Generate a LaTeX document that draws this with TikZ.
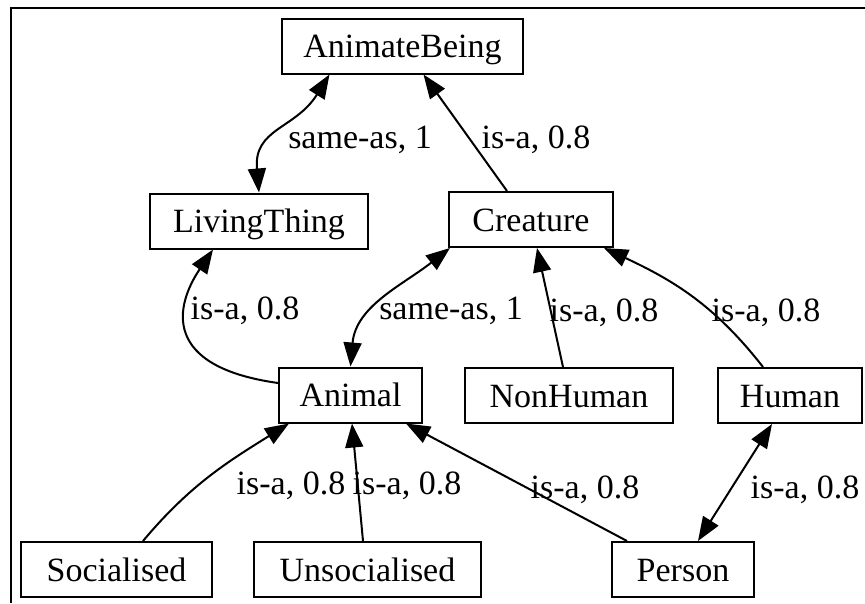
\documentclass[tikz,border=0pt]{standalone}
\usepackage{fontspec}
\setmainfont{Liberation Serif}
\usetikzlibrary{arrows.meta}
\begin{document}
\begin{tikzpicture}[x=1pt,y=1pt,
  every node/.style={font=\fontsize{34}{40}\selectfont, text height=23pt, text depth=0pt},
  box/.style={draw=black, line width=2pt, minimum height=55pt, inner sep=0pt},
  lbl/.style={inner sep=0pt},
  isa/.style={line width=2pt, -{Triangle[length=24pt,width=18pt]}},
  same/.style={line width=2pt, {Triangle[length=24pt,width=18pt]}-{Triangle[length=24pt,width=18pt]}},
  frame/.style={line width=2pt}]
\useasboundingbox (0,0) rectangle (865,-603);

% open frame: left and top rules
\coordinate (fbl) at (11,-603);
\coordinate (ftl) at (11,-8);
\coordinate (ftr) at (865,-8);
\draw[frame] (fbl) -- (ftl) -- (ftr);

% concepts
\node[box, minimum width=241pt] (ab) at (402.5,-46) {AnimateBeing};
\node[box, minimum width=218pt] (lt) at (259,-221) {LivingThing};
\node[box, minimum width=164pt] (cr) at (531,-219.5) {Creature};
\node[box, minimum width=143pt] (an) at (350.5,-395) {Animal};
\node[box, minimum width=208pt] (nh) at (569,-395.5) {NonHuman};
\node[box, minimum width=144pt] (hu) at (790,-395.5) {Human};
\node[box, minimum width=191pt] (so) at (116.5,-569.5) {Socialised};
\node[box, minimum width=227pt] (un) at (367.5,-569.5) {Unsocialised};
\node[box, minimum width=142pt] (pe) at (683,-569.5) {Person};

% relations
\draw[same] ([xshift=-73pt]ab.south) to[out=238,in=95,looseness=1.2] (lt.north);
\draw[isa] ([xshift=-24pt]cr.north) -- ([xshift=21pt]ab.south);
\draw[isa] ([yshift=12pt]an.west) to[out=172,in=236,out distance=118pt,in distance=68pt] ([xshift=-46pt]lt.south);
\draw[same] (an.north) to[out=85,in=218] ([xshift=2pt]cr.south west);
\draw[isa] ([xshift=-6pt]nh.north) -- ([xshift=6pt]cr.south);
\draw[isa] ([xshift=-27pt]hu.north) to[out=128,in=-25] ([xshift=-10pt]cr.south east);
\draw[isa] ([xshift=26.5pt]so.north) to[out=50,in=212] ([xshift=11pt]an.south west);
\draw[isa] ([xshift=-4.5pt]un.north) -- ([xshift=1.5pt]an.south);
\draw[isa] ([xshift=-56pt]pe.north) -- ([xshift=-17pt]an.south east);
\draw[same] ([xshift=-18pt]hu.south) -- ([xshift=15pt]pe.north);

% relation labels
\node[lbl] (l1) at (360,-137) {same-as, 1};
\node[lbl] (l2) at (536,-137) {is-a, 0.8};
\node[lbl] (l3) at (245,-308) {is-a, 0.8};
\node[lbl] (l4) at (451,-308) {same-as, 1};
\node[lbl] (l5) at (604,-310) {is-a, 0.8};
\node[lbl] (l6) at (766,-310) {is-a, 0.8};
\node[lbl] (l7) at (291,-483) {is-a, 0.8};
\node[lbl] (l8) at (407,-483) {is-a, 0.8};
\node[lbl] (l9) at (585,-487) {is-a, 0.8};
\node[lbl] (l10) at (805,-487) {is-a, 0.8};
\end{tikzpicture}
\end{document}
